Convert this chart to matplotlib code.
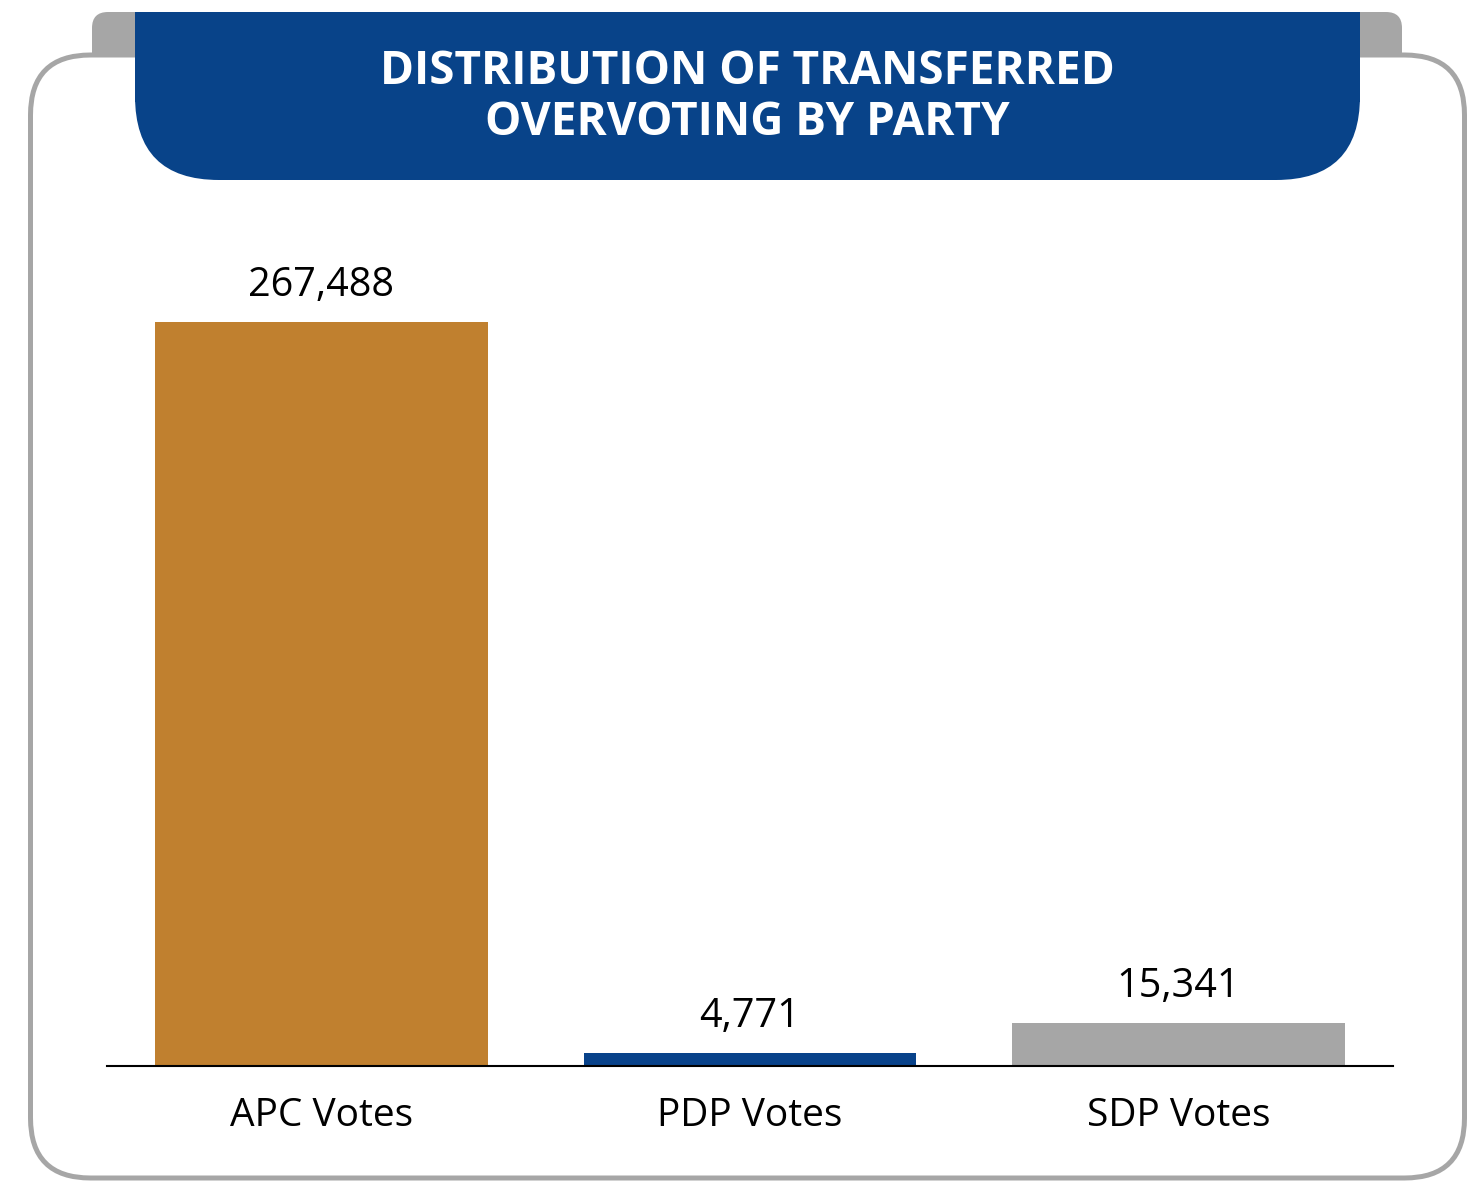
import numpy as np
import matplotlib.pyplot as plt
from matplotlib.patches import FancyBboxPatch, Rectangle

# chart data
parties = ['APC Votes', 'PDP Votes', 'SDP Votes']
votes = [267488, 4771, 15341]
bar_colors = ['#c0802f', '#08428a', '#a6a6a6']
title_lines = ['DISTRIBUTION OF TRANSFERRED', 'OVERVOTING BY PARTY']

W, H = 1476, 1181
fig = plt.figure(figsize=(W / 100, H / 100), dpi=100)
fig.patch.set_facecolor('white')

# background frame drawn in pixel coords
bg = fig.add_axes([0, 0, 1, 1], zorder=0)
bg.set_xlim(0, W)
bg.set_ylim(H, 0)
bg.axis('off')

grey = '#a6a6a6'
blue = '#084389'

# grey tab behind the banner
bg.add_patch(FancyBboxPatch((92, 12), 1310, 90, boxstyle='round,pad=0,rounding_size=16',
                            fc=grey, ec='none', zorder=1))
# outer rounded card
bg.add_patch(FancyBboxPatch((30.5, 55), 1434, 1123, boxstyle='round,pad=0,rounding_size=60',
                            fc='white', ec=grey, lw=3.6, zorder=2))
# title banner: bottom corners rounded, top square
bg.add_patch(FancyBboxPatch((135, 12), 1225, 168, boxstyle='round,pad=0,rounding_size=84',
                            fc=blue, ec='none', zorder=3))
bg.add_patch(Rectangle((135, 12), 1225, 90, fc=blue, ec='none', zorder=3))

title_font = dict(family=['Open Sans', 'DejaVu Sans'], fontweight='bold', color='white',
                  ha='center', va='baseline', zorder=4)
bg.text(747.5, 84, title_lines[0], fontsize=33, **title_font)
bg.text(747.5, 135, title_lines[1], fontsize=33, **title_font)

# bar chart axes
x_left, x_right = 107, 1393
y_base, y_top = 1066, 222
ax = fig.add_axes([x_left / W, (H - y_base) / H, (x_right - x_left) / W, (y_base - y_top) / H],
                  zorder=1)
ax.patch.set_visible(False)

x = np.arange(len(parties))
ax.bar(x, votes, width=0.776, color=bar_colors)
ax.set_xlim(-0.5, 2.5)
ax.set_ylim(0, max(votes) * (y_base - y_top) / (y_base - 322))

for i, v in enumerate(votes):
    ax.annotate(f'{v:,}', xy=(i, v), xytext=(0, 18.7), textcoords='offset points',
                ha='center', va='baseline', fontsize=28.5,
                family=['Open Sans', 'DejaVu Sans'], color='black')

for i, p in enumerate(parties):
    ax.annotate(p, xy=(i, 0), xytext=(0, -43.2), textcoords='offset points',
                ha='center', va='baseline', fontsize=28,
                family=['Open Sans', 'DejaVu Sans'], color='black', annotation_clip=False)

for s in ['top', 'left', 'right']:
    ax.spines[s].set_visible(False)
ax.spines['bottom'].set_linewidth(1.5)
ax.spines['bottom'].set_color('black')
ax.set_xticks([])
ax.set_yticks([])

fig.savefig('out.png', dpi=100)
